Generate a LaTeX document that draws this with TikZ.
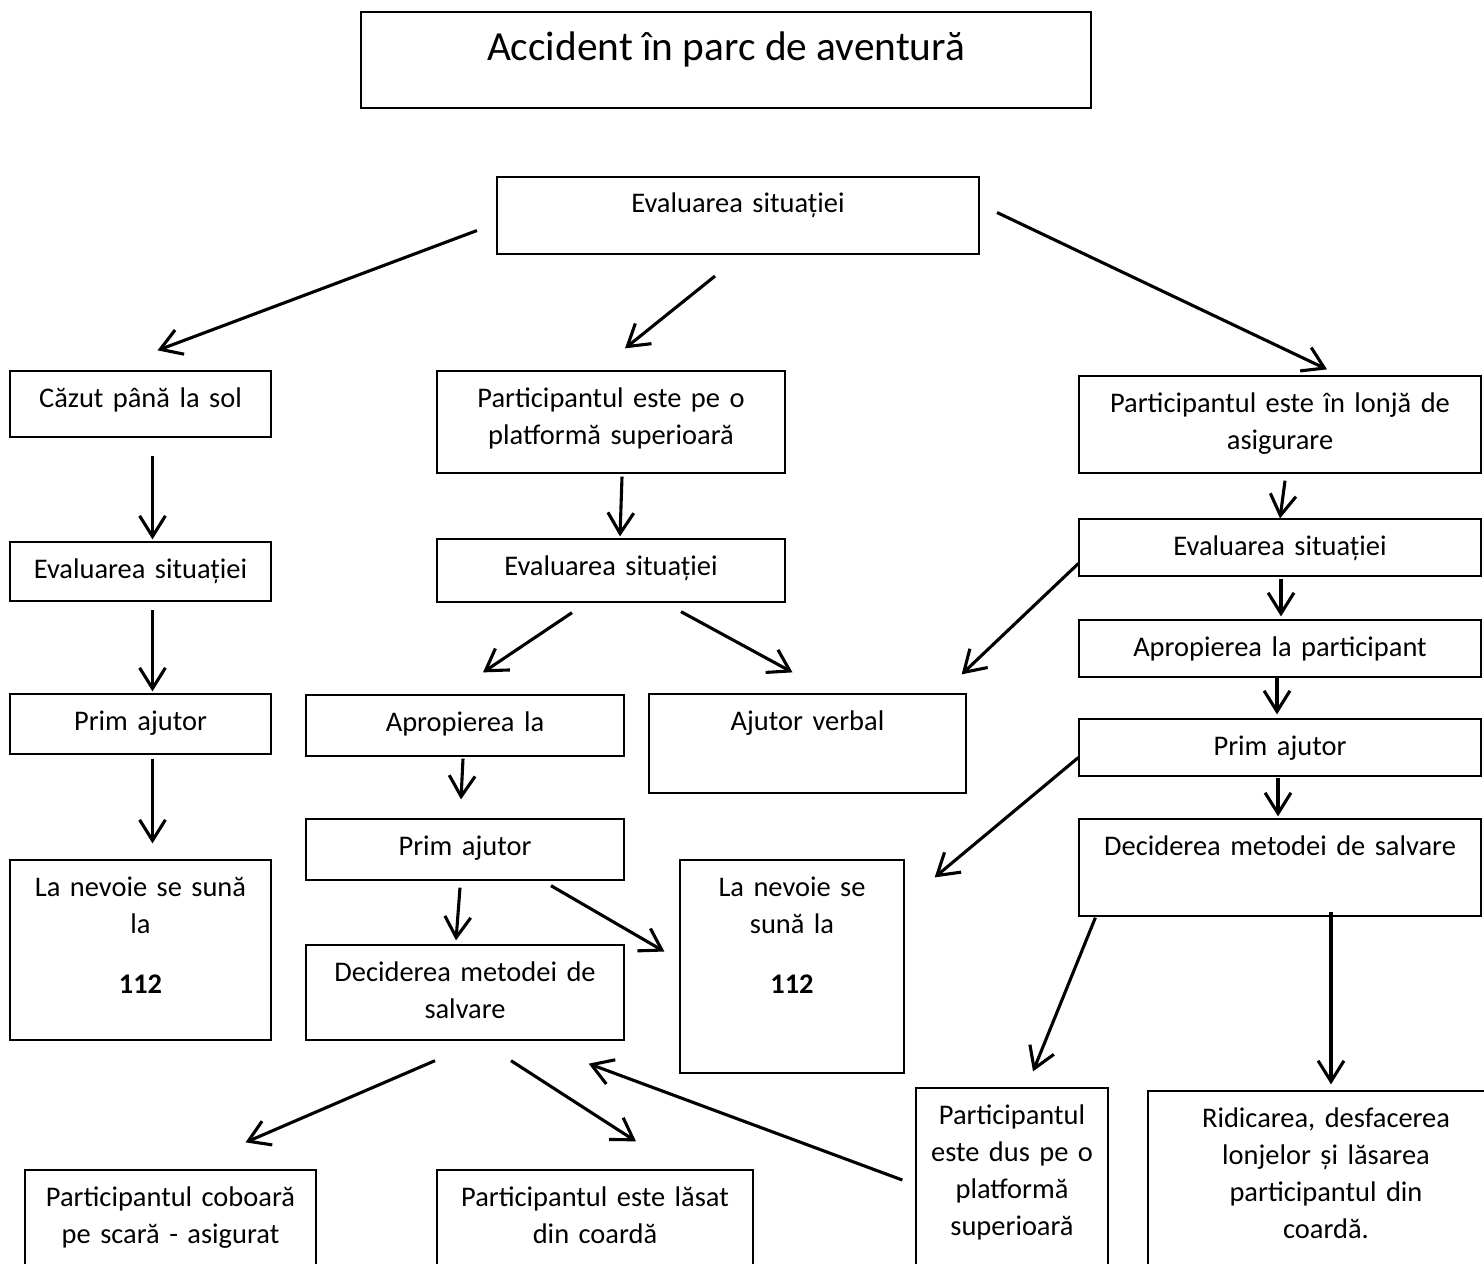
\documentclass[tikz,border=0pt]{standalone}
\usepackage{fontspec}
\setmainfont{Carlito}
\usetikzlibrary{arrows.meta,calc}

\begin{document}
\begin{tikzpicture}[x=0.0136cm, y=-0.0136cm,
    box/.style={draw, line width=0.5pt, inner sep=0pt},
    txt/.style={anchor=base, align=center, inner sep=0pt, font=\fontsize{11}{14.3}\selectfont},
    arr/.style={-{Straight Barb[length=8pt,width=10pt]}, line width=1.2pt}]
    \useasboundingbox (0,0) rectangle (1484,1263);
    \clip (0,0) rectangle (1484,1263);
    % Define a box by its edges in pixels, with its text near the top
    \def\bx#1#2#3#4#5#6#7{
        \pgfmathsetmacro\bw{(#5-#3)*0.0136}
        \pgfmathsetmacro\bh{(#6-#4)*0.0136}
        \node[box, #1, minimum width=\bw cm, minimum height=\bh cm] (#2) at ({(#3+#5)/2},{(#4+#6)/2}) {};
        \node[txt, text width=\bw cm] (#2t) at ($(#2.north)+(0,37)$) {#7};
    }
    \node[box, line width=0.6pt, minimum width=9.928cm, minimum height=1.306cm] (title) at (726,60) {};
    \node[txt, font=\fontsize{16}{20}\selectfont] (titlet) at ($(title.north)+(0,49)$) {Accident în parc de aventură};
    \bx{line width=0.8pt}{ev0}{497}{177}{979}{254}{Evaluarea situației}
    % left
    \bx{}{a1}{10}{371}{271}{437}{Căzut până la sol}
    \bx{}{a2}{10}{542}{271}{601}{Evaluarea situației}
    \bx{}{a3}{10}{694}{271}{754}{Prim ajutor}
    \bx{}{a4}{10}{860}{271}{1040}{La nevoie se sună\\ la\\[9pt] \textbf{112}}
    % middle
    \bx{}{b1}{437}{371}{785}{473}{Participantul este pe o\\ platformă superioară}
    \bx{}{b2}{437}{539}{785}{602}{Evaluarea situației}
    \bx{}{b3}{306}{695}{624}{756}{Apropierea la}
    \bx{}{b4}{649}{694}{966}{793}{Ajutor verbal}
    \bx{}{b5}{306}{819}{624}{880}{Prim ajutor}
    \bx{}{b6}{306}{945}{624}{1040}{Deciderea metodei de\\ salvare}
    \bx{}{b7}{680}{860}{904}{1073}{La nevoie se\\ sună la\\[9pt] \textbf{112}}
    \bx{}{b8}{25}{1170}{316}{1300}{Participantul coboară\\ pe scară - asigurat}
    \bx{}{b9}{437}{1170}{753}{1300}{Participantul este lăsat\\ din coardă}
    % right
    \bx{}{c1}{1079}{376}{1481}{473}{Participantul este în lonjă de\\ asigurare}
    \bx{}{c2}{1079}{519}{1481}{576}{Evaluarea situației}
    \bx{}{c3}{1079}{620}{1481}{677}{Apropierea la participant}
    \bx{}{c4}{1079}{719}{1481}{776}{Prim ajutor}
    \bx{}{c5}{1079}{819}{1481}{916}{Deciderea metodei de salvare}
    \bx{}{c6}{916}{1088}{1108}{1300}{Participantul\\ este dus pe o\\ platformă\\ superioară}
    \bx{}{c7}{1148}{1091}{1504}{1300}{Ridicarea, desfacerea\\ lonjelor și lăsarea\\ participantul din\\ coardă.}

    \draw[arr] ($(ev0.west)+(-19,15)$) -- ($(a1.north)+(17,-20)$);
    \draw[arr] ($(ev0.south)+(-23,21)$) -- ($(b1.north)+(14,-22)$);
    \draw[arr] ($(ev0.east)+(17,-3)$) -- ($(c1.north)+(47,-6)$);

    \draw[arr] ($(a1.south)+(12,18)$) -- ($(a2.north)+(12,-2)$);
    \draw[arr] ($(a2.south)+(12,8)$) -- ($(a3.north)+(12,-2)$);
    \draw[arr] ($(a3.south)+(12,4)$) -- ($(a4.north)+(12,-16)$);

    \draw[arr] ($(b1.south)+(11,3)$) -- ($(b2.north)+(9,-2)$);
    \draw[arr] ($(b2.south)+(-39,10)$) -- ($(b3.north)+(18,-22)$);
    \draw[arr] ($(b2.south)+(70,9)$) -- ($(b4.north)+(-15,-21)$);
    \draw[arr] ($(b3.south)+(-2,2)$) -- ($(b5.north)+(-4,-19)$);
    \draw[arr] ($(b5.south)+(-5,7)$) -- ($(b6.north)+(-9,-4)$);
    \draw[arr] ($(b5.south)+(86,5)$) -- ($(b7.west)+(-15,-15)$);
    \draw[arr] ($(b6.south)+(-30,20)$) -- ($(b8.north)+(75,-27)$);
    \draw[arr] ($(b6.south)+(46,20)$) -- ($(b9.north)+(41,-28)$);
    \draw[arr] ($(c6.west)+(-13,-14)$) -- ($(b6.south east)+(-36,23)$);

    \draw[arr] ($(c1.south)+(5,7)$) -- ($(c2.north)+(0,0)$);
    \draw[arr] ($(c2.south)+(1,2)$) -- ($(c3.north)+(1,-3)$);
    \draw[arr] ($(c3.south)+(-3,0)$) -- ($(c4.north)+(-3,-4)$);
    \draw[arr] ($(c4.south)+(-2,1)$) -- ($(c5.north)+(-2,-2)$);
    \draw[arr] ($(c2.west)+(0,16)$) -- ($(b4.north east)+(-5,-19)$);
    \draw[arr] ($(c4.west)+(0,10)$) -- ($(b7.north east)+(30,18)$);
    \draw[arr] ($(c5.south west)+(17,1)$) -- ($(c6.north)+(21,-16)$);
    \draw[arr] ($(c5.south)+(51,-5)$) -- ($(c7.north)+(5,-6)$);
\end{tikzpicture}
\end{document}
